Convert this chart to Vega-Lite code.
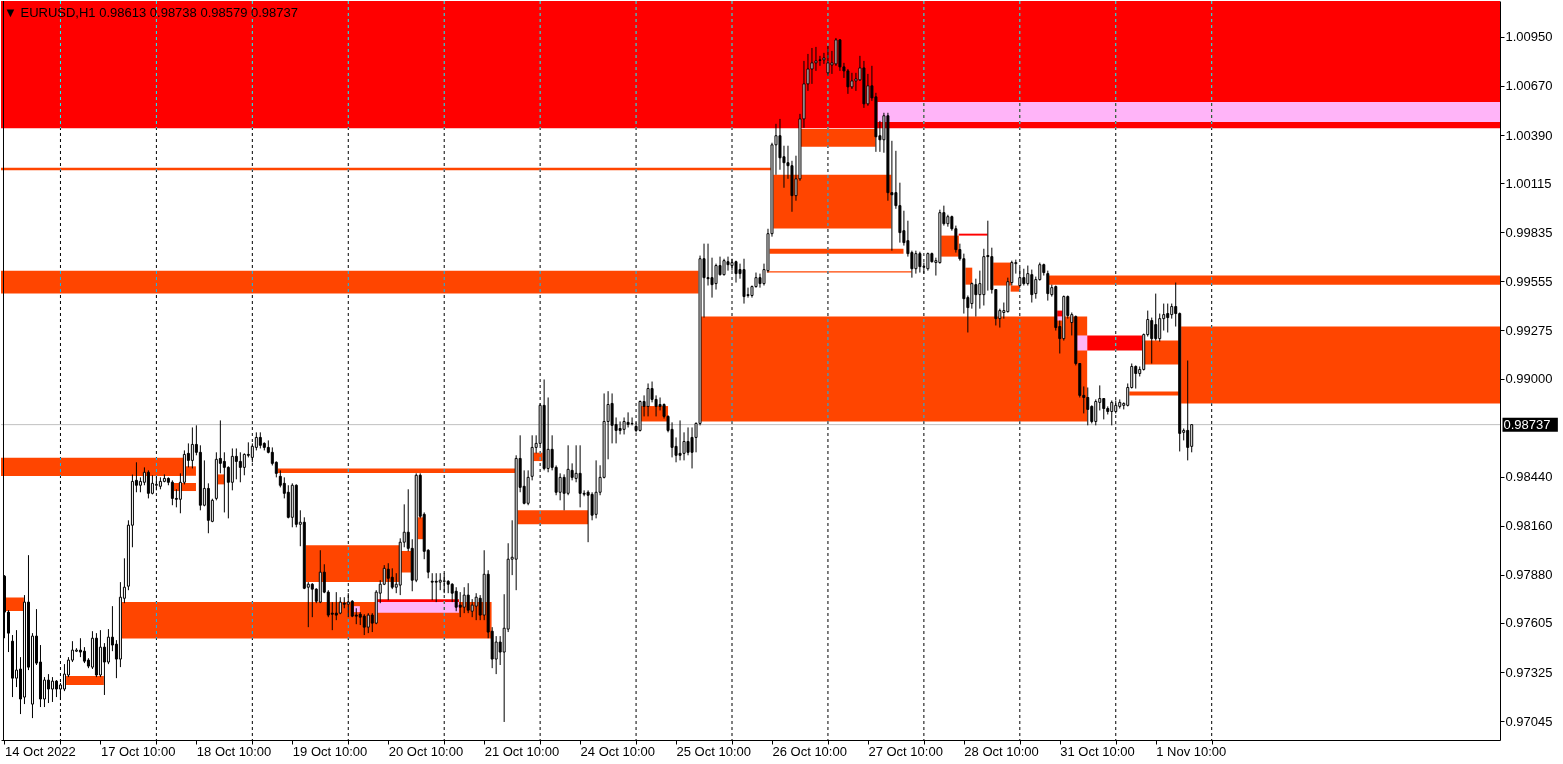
{
"$schema": "https://vega.github.io/schema/vega-lite/v6.json",
"width": 1563, "height": 764,
"autosize": {"type": "fit", "contains": "padding"},
"padding": 0,
"background": "white",
"config": {"view": {"stroke": null}, "font": "Liberation Sans"},
"title": {"text": "▼ EURUSD,H1  0.98613 0.98738 0.98579 0.98737", "anchor": "start", "frame": "group", "offset": -19, "dx": 3, "fontSize": 13, "font": "Liberation Sans", "fontWeight": "normal", "color": "black"},
"datasets": {
"last": [{"p": 0.98737}],
"days": [{"d":14},{"d":38},{"d":62},{"d":86},{"d":110},{"d":134},{"d":158},{"d":182},{"d":206},{"d":230},{"d":254},{"d":278},{"d":302}],
"zones": [
{"x1":-0.875,"x2":374.125,"top":1.01155,"bottom":1.00428,"kind":"red"},
{"x1":218.4,"x2":374.125,"top":1.00579,"bottom":1.00465,"kind":"pink"},
{"x1":-0.875,"x2":191.7,"top":1.00203,"bottom":1.00189,"kind":"orange"},
{"x1":-0.875,"x2":173.6,"top":0.99616,"bottom":0.99485,"kind":"orange"},
{"x1":174.2,"x2":270.85,"top":0.99354,"bottom":0.98755,"kind":"orange"},
{"x1":192.35,"x2":221.85,"top":1.00163,"bottom":0.99857,"kind":"orange"},
{"x1":199.2,"x2":217.9,"top":1.00425,"bottom":1.00323,"kind":"orange"},
{"x1":191.4,"x2":224.9,"top":0.99741,"bottom":0.99713,"kind":"orange"},
{"x1":190.7,"x2":226.9,"top":0.99612,"bottom":0.99606,"kind":"orange"},
{"x1":261.2,"x2":374.125,"top":0.99588,"bottom":0.99536,"kind":"orange"},
{"x1":294.35,"x2":374.125,"top":0.99297,"bottom":0.98858,"kind":"orange"},
{"x1":270.85,"x2":284.6,"top":0.99246,"bottom":0.99160,"kind":"red"},
{"x1":268.35,"x2":270.85,"top":0.99246,"bottom":0.99160,"kind":"pink"},
{"x1":284.6,"x2":293.75,"top":0.99217,"bottom":0.99080,"kind":"orange"},
{"x1":281.4,"x2":293.75,"top":0.98926,"bottom":0.98904,"kind":"orange"},
{"x1":263.35,"x2":264.7,"top":0.99388,"bottom":0.99354,"kind":"red"},
{"x1":263.35,"x2":264.7,"top":0.99354,"bottom":0.99331,"kind":"pink"},
{"x1":234.35,"x2":238.75,"top":0.99816,"bottom":0.99696,"kind":"orange"},
{"x1":238.7,"x2":245.9,"top":0.99827,"bottom":0.99816,"kind":"red"},
{"x1":240.4,"x2":242.1,"top":0.99633,"bottom":0.99536,"kind":"orange"},
{"x1":247.35,"x2":251.85,"top":0.99662,"bottom":0.99531,"kind":"orange"},
{"x1":251.7,"x2":254.0,"top":0.99531,"bottom":0.99496,"kind":"orange"},
{"x1":29.35,"x2":121.85,"top":0.97725,"bottom":0.97516,"kind":"orange"},
{"x1":92.9,"x2":113.7,"top":0.97725,"bottom":0.97663,"kind":"pink"},
{"x1":93.2,"x2":113.7,"top":0.97741,"bottom":0.97725,"kind":"red"},
{"x1":87.4,"x2":88.9,"top":0.97701,"bottom":0.97667,"kind":"pink"},
{"x1":75.4,"x2":99.2,"top":0.98049,"bottom":0.97839,"kind":"orange"},
{"x1":99.2,"x2":101.7,"top":0.98016,"bottom":0.97893,"kind":"orange"},
{"x1":103.35,"x2":104.75,"top":0.98208,"bottom":0.98083,"kind":"orange"},
{"x1":68.4,"x2":127.7,"top":0.98487,"bottom":0.98461,"kind":"orange"},
{"x1":-0.875,"x2":45.4,"top":0.98548,"bottom":0.98444,"kind":"orange"},
{"x1":45.4,"x2":47.9,"top":0.98499,"bottom":0.98445,"kind":"orange"},
{"x1":42.35,"x2":47.9,"top":0.98404,"bottom":0.98358,"kind":"orange"},
{"x1":53.35,"x2":55.0,"top":0.98453,"bottom":0.98396,"kind":"orange"},
{"x1":0.35,"x2":4.85,"top":0.97750,"bottom":0.97674,"kind":"orange"},
{"x1":15.4,"x2":24.85,"top":0.97302,"bottom":0.97251,"kind":"orange"},
{"x1":128.35,"x2":146.0,"top":0.98248,"bottom":0.98168,"kind":"orange"},
{"x1":132.35,"x2":134.6,"top":0.98577,"bottom":0.98529,"kind":"orange"},
{"x1":159.2,"x2":166.0,"top":0.98843,"bottom":0.98755,"kind":"orange"}
],
"bars": [
{"i":0,"o":0.97872,"h":0.97878,"l":0.97518,"c":0.97667},
{"i":1,"o":0.97667,"h":0.97678,"l":0.97439,"c":0.97547},
{"i":2,"o":0.97501,"h":0.97536,"l":0.97182,"c":0.97290},
{"i":3,"o":0.97290,"h":0.97564,"l":0.97239,"c":0.97336},
{"i":4,"o":0.97342,"h":0.97410,"l":0.97085,"c":0.97171},
{"i":5,"o":0.97182,"h":0.97764,"l":0.97142,"c":0.97724},
{"i":6,"o":0.97724,"h":0.97992,"l":0.97336,"c":0.97353},
{"i":7,"o":0.97142,"h":0.97547,"l":0.97062,"c":0.97530},
{"i":8,"o":0.97530,"h":0.97684,"l":0.97365,"c":0.97376},
{"i":9,"o":0.97382,"h":0.97479,"l":0.97125,"c":0.97171},
{"i":10,"o":0.97171,"h":0.97296,"l":0.97125,"c":0.97279},
{"i":11,"o":0.97279,"h":0.97313,"l":0.97148,"c":0.97228},
{"i":12,"o":0.97228,"h":0.97296,"l":0.97154,"c":0.97273},
{"i":13,"o":0.97273,"h":0.97279,"l":0.97182,"c":0.97228},
{"i":14,"o":0.97228,"h":0.97262,"l":0.97165,"c":0.97251},
{"i":15,"o":0.97228,"h":0.97370,"l":0.97216,"c":0.97313},
{"i":16,"o":0.97308,"h":0.97410,"l":0.97296,"c":0.97393},
{"i":17,"o":0.97393,"h":0.97501,"l":0.97382,"c":0.97450},
{"i":18,"o":0.97444,"h":0.97461,"l":0.97439,"c":0.97450},
{"i":19,"o":0.97450,"h":0.97518,"l":0.97410,"c":0.97439},
{"i":20,"o":0.97444,"h":0.97467,"l":0.97376,"c":0.97387},
{"i":21,"o":0.97393,"h":0.97404,"l":0.97347,"c":0.97359},
{"i":22,"o":0.97353,"h":0.97558,"l":0.97342,"c":0.97518},
{"i":23,"o":0.97518,"h":0.97547,"l":0.97296,"c":0.97308},
{"i":24,"o":0.97308,"h":0.97564,"l":0.97296,"c":0.97467},
{"i":25,"o":0.97467,"h":0.97490,"l":0.97194,"c":0.97382},
{"i":26,"o":0.97382,"h":0.97570,"l":0.97370,"c":0.97524},
{"i":27,"o":0.97524,"h":0.97701,"l":0.97444,"c":0.97479},
{"i":28,"o":0.97484,"h":0.97507,"l":0.97290,"c":0.97399},
{"i":29,"o":0.97399,"h":0.97838,"l":0.97353,"c":0.97752},
{"i":30,"o":0.97746,"h":0.97974,"l":0.97718,"c":0.97809},
{"i":31,"o":0.97815,"h":0.98191,"l":0.97792,"c":0.98163},
{"i":32,"o":0.98163,"h":0.98452,"l":0.98037,"c":0.98413},
{"i":33,"o":0.98419,"h":0.98522,"l":0.98351,"c":0.98391},
{"i":34,"o":0.98391,"h":0.98436,"l":0.98351,"c":0.98413},
{"i":35,"o":0.98408,"h":0.98493,"l":0.98391,"c":0.98465},
{"i":36,"o":0.98465,"h":0.98476,"l":0.98316,"c":0.98345},
{"i":37,"o":0.98345,"h":0.98448,"l":0.98339,"c":0.98402},
{"i":38,"o":0.98391,"h":0.98436,"l":0.98362,"c":0.98396},
{"i":39,"o":0.98385,"h":0.98436,"l":0.98368,"c":0.98413},
{"i":40,"o":0.98413,"h":0.98453,"l":0.98408,"c":0.98430},
{"i":41,"o":0.98430,"h":0.98436,"l":0.98391,"c":0.98408},
{"i":42,"o":0.98408,"h":0.98419,"l":0.98277,"c":0.98316},
{"i":43,"o":0.98316,"h":0.98368,"l":0.98265,"c":0.98311},
{"i":44,"o":0.98311,"h":0.98459,"l":0.98231,"c":0.98408},
{"i":45,"o":0.98408,"h":0.98590,"l":0.98396,"c":0.98567},
{"i":46,"o":0.98573,"h":0.98630,"l":0.98493,"c":0.98533},
{"i":47,"o":0.98533,"h":0.98721,"l":0.98487,"c":0.98624},
{"i":48,"o":0.98624,"h":0.98733,"l":0.98562,"c":0.98579},
{"i":49,"o":0.98579,"h":0.98619,"l":0.98248,"c":0.98277},
{"i":50,"o":0.98277,"h":0.98533,"l":0.98271,"c":0.98373},
{"i":51,"o":0.98373,"h":0.98402,"l":0.98117,"c":0.98191},
{"i":52,"o":0.98185,"h":0.98314,"l":0.98180,"c":0.98305},
{"i":53,"o":0.98316,"h":0.98579,"l":0.98305,"c":0.98539},
{"i":54,"o":0.98544,"h":0.98761,"l":0.98459,"c":0.98516},
{"i":55,"o":0.98527,"h":0.98579,"l":0.98236,"c":0.98493},
{"i":56,"o":0.98493,"h":0.98499,"l":0.98202,"c":0.98408},
{"i":57,"o":0.98408,"h":0.98601,"l":0.98362,"c":0.98556},
{"i":58,"o":0.98556,"h":0.98601,"l":0.98425,"c":0.98527},
{"i":59,"o":0.98527,"h":0.98579,"l":0.98408,"c":0.98493},
{"i":60,"o":0.98493,"h":0.98573,"l":0.98448,"c":0.98567},
{"i":61,"o":0.98567,"h":0.98636,"l":0.98550,"c":0.98562},
{"i":62,"o":0.98550,"h":0.98630,"l":0.98522,"c":0.98613},
{"i":63,"o":0.98607,"h":0.98693,"l":0.98590,"c":0.98664},
{"i":64,"o":0.98664,"h":0.98693,"l":0.98601,"c":0.98619},
{"i":65,"o":0.98630,"h":0.98636,"l":0.98590,"c":0.98607},
{"i":66,"o":0.98607,"h":0.98647,"l":0.98573,"c":0.98579},
{"i":67,"o":0.98579,"h":0.98607,"l":0.98504,"c":0.98516},
{"i":68,"o":0.98522,"h":0.98527,"l":0.98436,"c":0.98459},
{"i":69,"o":0.98442,"h":0.98476,"l":0.98379,"c":0.98391},
{"i":70,"o":0.98402,"h":0.98436,"l":0.98316,"c":0.98345},
{"i":71,"o":0.98351,"h":0.98391,"l":0.98202,"c":0.98208},
{"i":72,"o":0.98208,"h":0.98402,"l":0.98151,"c":0.98391},
{"i":73,"o":0.98391,"h":0.98396,"l":0.98151,"c":0.98168},
{"i":74,"o":0.98168,"h":0.98248,"l":0.98043,"c":0.98180},
{"i":75,"o":0.98180,"h":0.98208,"l":0.97798,"c":0.97803},
{"i":76,"o":0.97809,"h":0.97838,"l":0.97581,"c":0.97826},
{"i":77,"o":0.97826,"h":0.97832,"l":0.97638,"c":0.97798},
{"i":78,"o":0.97798,"h":0.97803,"l":0.97718,"c":0.97729},
{"i":79,"o":0.97724,"h":0.98020,"l":0.97718,"c":0.97895},
{"i":80,"o":0.97895,"h":0.97940,"l":0.97775,"c":0.97781},
{"i":81,"o":0.97781,"h":0.97792,"l":0.97638,"c":0.97650},
{"i":82,"o":0.97661,"h":0.97724,"l":0.97564,"c":0.97655},
{"i":83,"o":0.97661,"h":0.97781,"l":0.97621,"c":0.97650},
{"i":84,"o":0.97661,"h":0.97752,"l":0.97655,"c":0.97724},
{"i":85,"o":0.97718,"h":0.97752,"l":0.97689,"c":0.97712},
{"i":86,"o":0.97712,"h":0.97775,"l":0.97638,"c":0.97724},
{"i":87,"o":0.97729,"h":0.97735,"l":0.97638,"c":0.97644},
{"i":88,"o":0.97650,"h":0.97689,"l":0.97598,"c":0.97644},
{"i":89,"o":0.97655,"h":0.97667,"l":0.97593,"c":0.97638},
{"i":90,"o":0.97644,"h":0.97655,"l":0.97536,"c":0.97581},
{"i":91,"o":0.97581,"h":0.97661,"l":0.97547,"c":0.97650},
{"i":92,"o":0.97650,"h":0.97661,"l":0.97553,"c":0.97604},
{"i":93,"o":0.97604,"h":0.97792,"l":0.97598,"c":0.97781},
{"i":94,"o":0.97775,"h":0.97849,"l":0.97718,"c":0.97826},
{"i":95,"o":0.97826,"h":0.97935,"l":0.97821,"c":0.97917},
{"i":96,"o":0.97912,"h":0.97946,"l":0.97735,"c":0.97860},
{"i":97,"o":0.97866,"h":0.97917,"l":0.97798,"c":0.97809},
{"i":98,"o":0.97809,"h":0.97889,"l":0.97775,"c":0.97826},
{"i":99,"o":0.97821,"h":0.98088,"l":0.97764,"c":0.98066},
{"i":100,"o":0.98066,"h":0.98282,"l":0.98037,"c":0.98123},
{"i":101,"o":0.98123,"h":0.98368,"l":0.98014,"c":0.98031},
{"i":102,"o":0.98031,"h":0.98083,"l":0.97786,"c":0.97849},
{"i":103,"o":0.97849,"h":0.98459,"l":0.97838,"c":0.98448},
{"i":104,"o":0.98448,"h":0.98459,"l":0.98202,"c":0.98214},
{"i":105,"o":0.98225,"h":0.98236,"l":0.97969,"c":0.98014},
{"i":106,"o":0.98020,"h":0.98026,"l":0.97860,"c":0.97895},
{"i":107,"o":0.97843,"h":0.97889,"l":0.97735,"c":0.97838},
{"i":108,"o":0.97843,"h":0.97889,"l":0.97724,"c":0.97838},
{"i":109,"o":0.97838,"h":0.97889,"l":0.97792,"c":0.97849},
{"i":110,"o":0.97843,"h":0.97889,"l":0.97775,"c":0.97845},
{"i":111,"o":0.97843,"h":0.97849,"l":0.97775,"c":0.97826},
{"i":112,"o":0.97826,"h":0.97832,"l":0.97724,"c":0.97775},
{"i":113,"o":0.97786,"h":0.97809,"l":0.97672,"c":0.97695},
{"i":114,"o":0.97707,"h":0.97781,"l":0.97638,"c":0.97695},
{"i":115,"o":0.97695,"h":0.97809,"l":0.97661,"c":0.97764},
{"i":116,"o":0.97764,"h":0.97832,"l":0.97661,"c":0.97678},
{"i":117,"o":0.97672,"h":0.97741,"l":0.97638,"c":0.97707},
{"i":118,"o":0.97701,"h":0.97775,"l":0.97621,"c":0.97752},
{"i":119,"o":0.97746,"h":0.97764,"l":0.97621,"c":0.97650},
{"i":120,"o":0.97650,"h":0.98020,"l":0.97621,"c":0.97883},
{"i":121,"o":0.97883,"h":0.97906,"l":0.97518,"c":0.97553},
{"i":122,"o":0.97558,"h":0.97581,"l":0.97347,"c":0.97399},
{"i":123,"o":0.97399,"h":0.97530,"l":0.97313,"c":0.97496},
{"i":124,"o":0.97496,"h":0.97530,"l":0.97365,"c":0.97439},
{"i":125,"o":0.97439,"h":0.97769,"l":0.97040,"c":0.97575},
{"i":126,"o":0.97570,"h":0.98060,"l":0.97553,"c":0.97969},
{"i":127,"o":0.97969,"h":0.98191,"l":0.97878,"c":0.97980},
{"i":128,"o":0.97969,"h":0.98562,"l":0.97792,"c":0.98544},
{"i":129,"o":0.98544,"h":0.98676,"l":0.98351,"c":0.98379},
{"i":130,"o":0.98385,"h":0.98476,"l":0.98282,"c":0.98288},
{"i":131,"o":0.98288,"h":0.98476,"l":0.98277,"c":0.98436},
{"i":132,"o":0.98442,"h":0.98676,"l":0.98419,"c":0.98607},
{"i":133,"o":0.98607,"h":0.98676,"l":0.98573,"c":0.98630},
{"i":134,"o":0.98630,"h":0.98858,"l":0.98619,"c":0.98847},
{"i":135,"o":0.98847,"h":0.98995,"l":0.98476,"c":0.98487},
{"i":136,"o":0.98487,"h":0.98892,"l":0.98465,"c":0.98596},
{"i":137,"o":0.98596,"h":0.98676,"l":0.98476,"c":0.98493},
{"i":138,"o":0.98493,"h":0.98504,"l":0.98334,"c":0.98351},
{"i":139,"o":0.98351,"h":0.98459,"l":0.98305,"c":0.98436},
{"i":140,"o":0.98436,"h":0.98453,"l":0.98248,"c":0.98345},
{"i":141,"o":0.98345,"h":0.98619,"l":0.98334,"c":0.98482},
{"i":142,"o":0.98476,"h":0.98516,"l":0.98419,"c":0.98436},
{"i":143,"o":0.98430,"h":0.98619,"l":0.98408,"c":0.98459},
{"i":144,"o":0.98459,"h":0.98619,"l":0.98265,"c":0.98345},
{"i":145,"o":0.98345,"h":0.98362,"l":0.98328,"c":0.98340},
{"i":146,"o":0.98351,"h":0.98362,"l":0.98066,"c":0.98334},
{"i":147,"o":0.98339,"h":0.98351,"l":0.98191,"c":0.98220},
{"i":148,"o":0.98225,"h":0.98533,"l":0.98202,"c":0.98351},
{"i":149,"o":0.98351,"h":0.98505,"l":0.98334,"c":0.98436},
{"i":150,"o":0.98436,"h":0.98915,"l":0.98430,"c":0.98755},
{"i":151,"o":0.98755,"h":0.98928,"l":0.98539,"c":0.98852},
{"i":152,"o":0.98858,"h":0.98915,"l":0.98630,"c":0.98733},
{"i":153,"o":0.98738,"h":0.98778,"l":0.98630,"c":0.98704},
{"i":154,"o":0.98715,"h":0.98755,"l":0.98681,"c":0.98704},
{"i":155,"o":0.98710,"h":0.98778,"l":0.98681,"c":0.98755},
{"i":156,"o":0.98750,"h":0.98807,"l":0.98721,"c":0.98738},
{"i":157,"o":0.98744,"h":0.98778,"l":0.98733,"c":0.98742},
{"i":158,"o":0.98727,"h":0.98750,"l":0.98693,"c":0.98704},
{"i":159,"o":0.98704,"h":0.98875,"l":0.98698,"c":0.98869},
{"i":160,"o":0.98869,"h":0.98904,"l":0.98784,"c":0.98841},
{"i":161,"o":0.98841,"h":0.98972,"l":0.98784,"c":0.98943},
{"i":162,"o":0.98943,"h":0.98983,"l":0.98864,"c":0.98881},
{"i":163,"o":0.98881,"h":0.98904,"l":0.98784,"c":0.98841},
{"i":164,"o":0.98852,"h":0.98892,"l":0.98818,"c":0.98841},
{"i":165,"o":0.98852,"h":0.98858,"l":0.98772,"c":0.98784},
{"i":166,"o":0.98784,"h":0.98790,"l":0.98693,"c":0.98704},
{"i":167,"o":0.98710,"h":0.98750,"l":0.98550,"c":0.98607},
{"i":168,"o":0.98613,"h":0.98664,"l":0.98522,"c":0.98562},
{"i":169,"o":0.98573,"h":0.98761,"l":0.98533,"c":0.98562},
{"i":170,"o":0.98573,"h":0.98693,"l":0.98533,"c":0.98641},
{"i":171,"o":0.98641,"h":0.98721,"l":0.98562,"c":0.98579},
{"i":172,"o":0.98664,"h":0.98721,"l":0.98487,"c":0.98579},
{"i":173,"o":0.98664,"h":0.98750,"l":0.98579,"c":0.98744},
{"i":174,"o":0.98744,"h":0.99702,"l":0.98733,"c":0.99684},
{"i":175,"o":0.99684,"h":0.99770,"l":0.99348,"c":0.99576},
{"i":176,"o":0.99576,"h":0.99770,"l":0.99531,"c":0.99570},
{"i":177,"o":0.99576,"h":0.99690,"l":0.99462,"c":0.99536},
{"i":178,"o":0.99542,"h":0.99656,"l":0.99508,"c":0.99645},
{"i":179,"o":0.99645,"h":0.99696,"l":0.99588,"c":0.99593},
{"i":180,"o":0.99593,"h":0.99684,"l":0.99588,"c":0.99673},
{"i":181,"o":0.99667,"h":0.99696,"l":0.99616,"c":0.99650},
{"i":182,"o":0.99645,"h":0.99684,"l":0.99616,"c":0.99662},
{"i":183,"o":0.99667,"h":0.99673,"l":0.99548,"c":0.99599},
{"i":184,"o":0.99622,"h":0.99656,"l":0.99570,"c":0.99599},
{"i":185,"o":0.99622,"h":0.99684,"l":0.99428,"c":0.99468},
{"i":186,"o":0.99474,"h":0.99519,"l":0.99462,"c":0.99479},
{"i":187,"o":0.99474,"h":0.99531,"l":0.99462,"c":0.99525},
{"i":188,"o":0.99525,"h":0.99605,"l":0.99519,"c":0.99576},
{"i":189,"o":0.99576,"h":0.99599,"l":0.99519,"c":0.99542},
{"i":190,"o":0.99542,"h":0.99656,"l":0.99531,"c":0.99622},
{"i":191,"o":0.99616,"h":0.99855,"l":0.99605,"c":0.99827},
{"i":192,"o":0.99827,"h":1.00346,"l":0.99810,"c":1.00334},
{"i":193,"o":1.00334,"h":1.00454,"l":1.00163,"c":1.00386},
{"i":194,"o":1.00386,"h":1.00482,"l":1.00192,"c":1.00260},
{"i":195,"o":1.00266,"h":1.00329,"l":1.00089,"c":1.00232},
{"i":196,"o":1.00232,"h":1.00329,"l":1.00140,"c":1.00215},
{"i":197,"o":1.00215,"h":1.00243,"l":0.99952,"c":1.00044},
{"i":198,"o":1.00044,"h":1.00272,"l":1.00015,"c":1.00140},
{"i":199,"o":1.00140,"h":1.00511,"l":1.00129,"c":1.00482},
{"i":200,"o":1.00482,"h":1.00813,"l":1.00431,"c":1.00682},
{"i":201,"o":1.00682,"h":1.00853,"l":1.00642,"c":1.00767},
{"i":202,"o":1.00767,"h":1.00887,"l":1.00682,"c":1.00802},
{"i":203,"o":1.00802,"h":1.00893,"l":1.00756,"c":1.00813},
{"i":204,"o":1.00819,"h":1.00842,"l":1.00785,"c":1.00816},
{"i":205,"o":1.00819,"h":1.00859,"l":1.00796,"c":1.00830},
{"i":206,"o":1.00745,"h":1.00899,"l":1.00728,"c":1.00802},
{"i":207,"o":1.00790,"h":1.00870,"l":1.00739,"c":1.00802},
{"i":208,"o":1.00796,"h":1.00944,"l":1.00785,"c":1.00933},
{"i":209,"o":1.00933,"h":1.00938,"l":1.00756,"c":1.00779},
{"i":210,"o":1.00779,"h":1.00802,"l":1.00716,"c":1.00756},
{"i":211,"o":1.00756,"h":1.00767,"l":1.00625,"c":1.00665},
{"i":212,"o":1.00665,"h":1.00745,"l":1.00653,"c":1.00699},
{"i":213,"o":1.00699,"h":1.00745,"l":1.00642,"c":1.00710},
{"i":214,"o":1.00705,"h":1.00842,"l":1.00699,"c":1.00773},
{"i":215,"o":1.00773,"h":1.00813,"l":1.00545,"c":1.00568},
{"i":216,"o":1.00568,"h":1.00739,"l":1.00557,"c":1.00671},
{"i":217,"o":1.00671,"h":1.00785,"l":1.00585,"c":1.00602},
{"i":218,"o":1.00608,"h":1.00631,"l":1.00294,"c":1.00380},
{"i":219,"o":1.00386,"h":1.00471,"l":1.00294,"c":1.00363},
{"i":220,"o":1.00363,"h":1.00517,"l":1.00289,"c":1.00500},
{"i":221,"o":1.00500,"h":1.00517,"l":1.00015,"c":1.00061},
{"i":222,"o":1.00061,"h":1.00357,"l":0.99730,"c":1.00049},
{"i":223,"o":1.00061,"h":1.00300,"l":0.99969,"c":0.99987},
{"i":224,"o":0.99987,"h":1.00118,"l":0.99776,"c":0.99833},
{"i":225,"o":0.99844,"h":0.99958,"l":0.99759,"c":0.99776},
{"i":226,"o":0.99787,"h":0.99901,"l":0.99696,"c":0.99713},
{"i":227,"o":0.99719,"h":0.99730,"l":0.99576,"c":0.99627},
{"i":228,"o":0.99627,"h":0.99730,"l":0.99599,"c":0.99713},
{"i":229,"o":0.99713,"h":0.99724,"l":0.99605,"c":0.99639},
{"i":230,"o":0.99639,"h":0.99662,"l":0.99599,"c":0.99636},
{"i":231,"o":0.99627,"h":0.99719,"l":0.99616,"c":0.99713},
{"i":232,"o":0.99713,"h":0.99719,"l":0.99662,"c":0.99667},
{"i":233,"o":0.99662,"h":0.99690,"l":0.99588,"c":0.99673},
{"i":234,"o":0.99662,"h":0.99964,"l":0.99656,"c":0.99947},
{"i":235,"o":0.99947,"h":0.99987,"l":0.99873,"c":0.99884},
{"i":236,"o":0.99884,"h":0.99935,"l":0.99867,"c":0.99924},
{"i":237,"o":0.99924,"h":0.99930,"l":0.99844,"c":0.99855},
{"i":238,"o":0.99855,"h":0.99873,"l":0.99719,"c":0.99736},
{"i":239,"o":0.99736,"h":0.99770,"l":0.99673,"c":0.99684},
{"i":240,"o":0.99684,"h":0.99713,"l":0.99371,"c":0.99456},
{"i":241,"o":0.99462,"h":0.99474,"l":0.99263,"c":0.99405},
{"i":242,"o":0.99428,"h":0.99548,"l":0.99399,"c":0.99542},
{"i":243,"o":0.99536,"h":0.99570,"l":0.99354,"c":0.99479},
{"i":244,"o":0.99479,"h":0.99616,"l":0.99399,"c":0.99542},
{"i":245,"o":0.99479,"h":0.99741,"l":0.99417,"c":0.99696},
{"i":246,"o":0.99702,"h":0.99901,"l":0.99502,"c":0.99696},
{"i":247,"o":0.99696,"h":0.99747,"l":0.99485,"c":0.99508},
{"i":248,"o":0.99508,"h":0.99508,"l":0.99303,"c":0.99342},
{"i":249,"o":0.99342,"h":0.99399,"l":0.99291,"c":0.99388},
{"i":250,"o":0.99377,"h":0.99434,"l":0.99342,"c":0.99388},
{"i":251,"o":0.99382,"h":0.99576,"l":0.99377,"c":0.99553},
{"i":252,"o":0.99548,"h":0.99673,"l":0.99531,"c":0.99662},
{"i":253,"o":0.99656,"h":0.99679,"l":0.99599,"c":0.99662},
{"i":254,"o":0.99531,"h":0.99633,"l":0.99519,"c":0.99576},
{"i":255,"o":0.99576,"h":0.99627,"l":0.99531,"c":0.99542},
{"i":256,"o":0.99542,"h":0.99645,"l":0.99531,"c":0.99599},
{"i":257,"o":0.99593,"h":0.99622,"l":0.99434,"c":0.99479},
{"i":258,"o":0.99485,"h":0.99582,"l":0.99456,"c":0.99565},
{"i":259,"o":0.99565,"h":0.99662,"l":0.99559,"c":0.99650},
{"i":260,"o":0.99650,"h":0.99656,"l":0.99588,"c":0.99605},
{"i":261,"o":0.99599,"h":0.99616,"l":0.99445,"c":0.99485},
{"i":262,"o":0.99479,"h":0.99536,"l":0.99468,"c":0.99519},
{"i":263,"o":0.99525,"h":0.99531,"l":0.99274,"c":0.99291},
{"i":264,"o":0.99297,"h":0.99331,"l":0.99143,"c":0.99228},
{"i":265,"o":0.99228,"h":0.99474,"l":0.99217,"c":0.99468},
{"i":266,"o":0.99468,"h":0.99474,"l":0.99342,"c":0.99360},
{"i":267,"o":0.99320,"h":0.99377,"l":0.99246,"c":0.99365},
{"i":268,"o":0.99354,"h":0.99360,"l":0.99075,"c":0.99086},
{"i":269,"o":0.99086,"h":0.99086,"l":0.98892,"c":0.98904},
{"i":270,"o":0.98904,"h":0.98955,"l":0.98801,"c":0.98892},
{"i":271,"o":0.98892,"h":0.98949,"l":0.98733,"c":0.98824},
{"i":272,"o":0.98841,"h":0.98847,"l":0.98744,"c":0.98755},
{"i":273,"o":0.98755,"h":0.98881,"l":0.98733,"c":0.98869},
{"i":274,"o":0.98864,"h":0.98961,"l":0.98818,"c":0.98886},
{"i":275,"o":0.98886,"h":0.98886,"l":0.98767,"c":0.98829},
{"i":276,"o":0.98829,"h":0.98841,"l":0.98795,"c":0.98812},
{"i":277,"o":0.98812,"h":0.98875,"l":0.98733,"c":0.98864},
{"i":278,"o":0.98812,"h":0.98875,"l":0.98801,"c":0.98847},
{"i":279,"o":0.98841,"h":0.98881,"l":0.98829,"c":0.98864},
{"i":280,"o":0.98847,"h":0.98864,"l":0.98824,"c":0.98858},
{"i":281,"o":0.98847,"h":0.98972,"l":0.98841,"c":0.98949},
{"i":282,"o":0.98949,"h":0.99086,"l":0.98943,"c":0.99069},
{"i":283,"o":0.99069,"h":0.99075,"l":0.98943,"c":0.99029},
{"i":284,"o":0.99029,"h":0.99069,"l":0.99012,"c":0.99052},
{"i":285,"o":0.99052,"h":0.99257,"l":0.99046,"c":0.99251},
{"i":286,"o":0.99251,"h":0.99388,"l":0.99240,"c":0.99337},
{"i":287,"o":0.99331,"h":0.99348,"l":0.99086,"c":0.99228},
{"i":288,"o":0.99308,"h":0.99485,"l":0.99217,"c":0.99228},
{"i":289,"o":0.99228,"h":0.99371,"l":0.99211,"c":0.99342},
{"i":290,"o":0.99342,"h":0.99428,"l":0.99274,"c":0.99365},
{"i":291,"o":0.99371,"h":0.99428,"l":0.99263,"c":0.99348},
{"i":292,"o":0.99365,"h":0.99428,"l":0.99342,"c":0.99411},
{"i":293,"o":0.99411,"h":0.99548,"l":0.99297,"c":0.99371},
{"i":294,"o":0.99371,"h":0.99377,"l":0.98584,"c":0.98687},
{"i":295,"o":0.98693,"h":0.98715,"l":0.98647,"c":0.98704},
{"i":296,"o":0.98704,"h":0.99103,"l":0.98533,"c":0.98607},
{"i":297,"o":0.98613,"h":0.98738,"l":0.98579,"c":0.98737}
]
},
"layer": [
{"data": {"name": "zones"}, "mark": {"type": "rect"},
 "encoding": {
  "x": {"field": "x1", "type": "quantitative", "scale": {"domain": [-0.875, 374.125], "nice": false, "zero": false, "padding": 0},
   "axis": {"title": null, "values": [0,14,24,38,48,62,72,86,96,110,120,134,144,158,168,182,192,206,216,230,240,254,264,278,288,302],
    "labelExpr": "datum.value % 24 == 0 ? ['14 Oct 2022','17 Oct 10:00','18 Oct 10:00','19 Oct 10:00','20 Oct 10:00','21 Oct 10:00','24 Oct 10:00','25 Oct 10:00','26 Oct 10:00','27 Oct 10:00','28 Oct 10:00','31 Oct 10:00','1 Nov 10:00'][datum.value / 24] : ''",
    "labelAlign": "left", "labelFlush": false, "labelOverlap": false, "labelBound": false, "labelPadding": 1, "labelFontSize": 13, "labelFont": "Liberation Sans", "labelColor": "black", "tickColor": "black", "tickSize": 4, "domainColor": "black", "grid": false, "minExtent": 24, "maxExtent": 24}},
  "x2": {"field": "x2"},
  "y": {"field": "top", "type": "quantitative", "scale": {"domain": [0.96937, 1.01155], "nice": false, "zero": false, "padding": 0},
   "axis": {"title": null, "orient": "right", "values": [1.0095,1.0067,1.0039,1.00115,0.99835,0.99555,0.99275,0.99,0.9844,0.9816,0.9788,0.97605,0.97325,0.97045],
    "format": ".5f", "labelFontSize": 13, "labelFont": "Liberation Sans", "labelColor": "black", "tickColor": "black", "tickSize": 4, "domainColor": "black", "grid": false, "labelPadding": 1, "labelFlush": false, "labelOverlap": false, "minExtent": 63, "maxExtent": 63}},
  "y2": {"field": "bottom"},
  "color": {"field": "kind", "type": "nominal", "scale": {"domain": ["red","orange","pink"], "range": ["#FF0000","#FF4500","#FFB4F8"]}, "legend": null}
 }},
{"data": {"name": "last"}, "mark": {"type": "rule", "color": "#C0C0C0", "strokeWidth": 1},
 "encoding": {"y": {"field": "p", "type": "quantitative", "axis": {"title": null}}}},
{"data": {"name": "days"}, "mark": {"type": "rule", "color": "white", "strokeWidth": 1, "strokeDash": [3,3], "blend": "difference"},
 "encoding": {"x": {"field": "d", "type": "quantitative", "axis": {"title": null}}}},
{"data": {"name": "bars"}, "mark": {"type": "rule", "color": "black", "strokeWidth": 1},
 "encoding": {"x": {"field": "i", "type": "quantitative", "axis": {"title": null}}, "y": {"field": "l", "type": "quantitative", "axis": {"title": null}}, "y2": {"field": "h"}}},
{"data": {"name": "bars"}, "mark": {"type": "bar", "size": 2, "stroke": "black", "strokeWidth": 1},
 "encoding": {"x": {"field": "i", "type": "quantitative", "axis": {"title": null}}, "y": {"field": "o", "type": "quantitative", "axis": {"title": null}}, "y2": {"field": "c"},
  "fill": {"condition": {"test": "datum.c >= datum.o", "value": "white"}, "value": "black"}}},
{"data": {"name": "last"}, "mark": {"type": "rule", "color": "black", "strokeWidth": 1},
 "encoding": {"x": {"datum": -0.25, "type": "quantitative", "axis": {"title": null}}}},
{"data": {"name": "last"}, "mark": {"type": "bar", "size": 14, "color": "black", "orient": "horizontal"},
 "encoding": {"x": {"datum": 374.75, "type": "quantitative", "axis": {"title": null}}, "x2": {"datum": 388.6}, "y": {"field": "p", "type": "quantitative", "axis": {"title": null}}}},
{"data": {"name": "last"}, "mark": {"type": "text", "align": "left", "baseline": "middle", "color": "white", "fontSize": 13, "font": "Liberation Sans"},
 "encoding": {"x": {"datum": 375.0, "type": "quantitative", "axis": {"title": null}}, "y": {"field": "p", "type": "quantitative", "axis": {"title": null}}, "text": {"field": "p", "type": "quantitative", "format": ".5f"}}}
]
}
